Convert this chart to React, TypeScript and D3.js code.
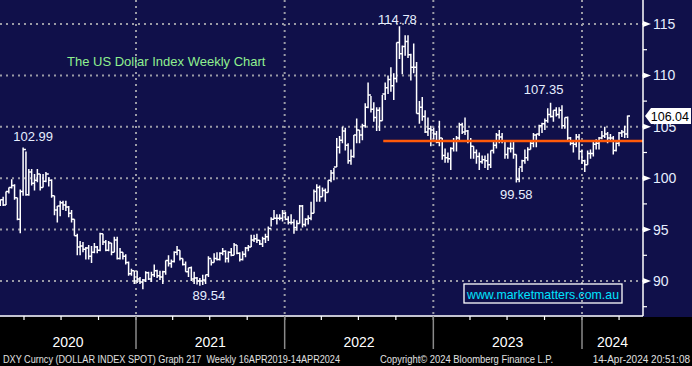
import React from "react";
import * as d3 from "d3";

// weekly DXY bars as [high, low, close]; each list starts at its first Friday
const start2020 = "2020-01-03";
const weeks2020: number[][] = [
  [96.9, 96.0, 96.8], [97.5, 96.6, 97.4], [97.6, 97.0, 97.6], [97.9, 97.3, 97.9], [98.2, 97.3, 97.4],
  [98.7, 97.4, 98.7], [99.1, 98.5, 99.1], [99.9, 99.0, 99.3], [99.4, 97.9, 98.1], [98.1, 95.9, 96.0],
  [98.9, 94.65, 98.7], [102.99, 98.3, 102.8], [102.6, 98.3, 98.4], [100.9, 98.3, 100.6], [100.9, 99.3, 99.5],
  [100.4, 98.8, 99.8], [100.9, 99.6, 100.4], [100.4, 98.8, 99.1], [100.4, 99.1, 99.7], [100.6, 99.6, 100.4],
  [100.1, 99.2, 99.8], [99.9, 98.1, 98.3], [98.3, 96.4, 96.9], [97.3, 95.7, 97.3], [97.8, 96.3, 97.6],
  [97.8, 96.9, 97.4], [97.8, 96.8, 97.2], [97.3, 96.2, 96.6], [96.9, 95.7, 96.0], [96.0, 94.4, 94.4],
  [94.6, 92.5, 93.3], [93.9, 92.5, 93.4], [93.8, 92.8, 93.1], [93.3, 92.1, 93.2], [93.5, 92.1, 92.4],
  [93.4, 91.75, 92.8], [93.7, 92.7, 93.3], [93.4, 92.7, 93.0], [94.7, 92.9, 94.6], [94.6, 93.5, 93.8],
  [94.0, 92.9, 93.0], [93.9, 92.9, 93.7], [93.7, 92.5, 92.8], [94.3, 92.8, 94.0], [94.3, 92.1, 92.2],
  [93.2, 92.1, 92.8], [92.8, 92.1, 92.4], [92.6, 91.6, 91.8], [91.9, 90.5, 90.7], [91.2, 90.5, 91.0],
  [91.0, 89.7, 90.0], [91.0, 89.8, 90.2], [90.4, 89.7, 89.9],
];
const start2021 = "2021-01-08";
const weeks2021: number[][] = [
  [90.2, 89.2, 90.1], [90.95, 89.9, 90.8], [90.9, 90.1, 90.2], [90.9, 89.9, 90.6],
  [91.6, 90.4, 91.0], [91.1, 90.3, 90.5], [91.0, 90.1, 90.4], [91.0, 89.7, 90.9],
  [92.0, 90.6, 92.0], [92.5, 91.4, 91.7], [92.1, 91.3, 91.9], [92.9, 91.8, 92.8],
  [93.4, 92.5, 93.0], [93.0, 92.0, 92.2], [92.2, 91.5, 91.6], [91.9, 90.9, 90.9], [91.3, 90.4, 91.3],
  [91.4, 90.0, 90.2], [90.9, 89.7, 90.3], [90.4, 89.65, 90.0], [90.3, 89.53, 90.0],
  [90.6, 89.6, 90.1], [90.6, 89.7, 90.6], [92.4, 90.4, 92.2], [92.1, 91.5, 91.8],
  [92.7, 91.8, 92.2], [92.8, 92.0, 92.1], [92.8, 92.0, 92.7], [93.2, 92.5, 92.9], [93.0, 91.8, 92.2],
  [92.9, 91.8, 92.8], [93.2, 92.4, 92.5], [93.7, 92.5, 93.5], [93.5, 92.6, 92.7],
  [92.8, 91.9, 92.1], [92.9, 92.0, 92.6], [93.3, 92.3, 93.2], [93.5, 92.9, 93.3],
  [94.5, 93.3, 94.0], [94.5, 93.8, 94.1], [94.6, 93.7, 93.96], [94.0, 93.5, 93.6], [94.3, 93.3, 94.1],
  [94.6, 93.7, 94.3], [95.3, 93.9, 95.1], [96.2, 95.3, 96.0], [96.9, 96.0, 96.1],
  [96.5, 95.5, 96.1], [96.5, 95.9, 96.1], [96.9, 95.8, 96.6], [96.7, 95.9, 96.0], [96.3, 95.5, 95.7],
];
const start2022 = "2022-01-07";
const weeks2022: number[][] = [
  [96.5, 95.5, 95.7], [96.0, 94.6, 95.2], [95.9, 94.9, 95.6], [97.4, 95.6, 97.3],
  [97.4, 95.2, 95.5], [96.1, 95.3, 96.0], [96.4, 95.5, 96.1], [97.7, 95.9, 96.6],
  [98.9, 96.6, 98.7], [99.4, 97.7, 99.1], [99.3, 97.7, 98.2], [99.1, 98.2, 98.8],
  [99.0, 97.7, 98.6], [99.8, 98.6, 99.8], [100.8, 99.6, 100.5], [101.0, 99.8, 101.1], [103.9, 101.1, 103.0],
  [104.1, 102.4, 103.7], [105.0, 103.4, 104.6], [104.9, 102.7, 103.2], [103.4, 101.4, 101.7],
  [102.8, 101.3, 102.1], [104.2, 102.0, 104.2], [105.8, 103.4, 104.7], [104.7, 103.4, 104.2],
  [105.3, 103.7, 105.1], [107.3, 104.9, 106.9], [109.3, 106.8, 108.1], [108.0, 106.4, 106.7], [107.4, 105.5, 105.9],
  [106.9, 104.6, 106.6], [106.9, 104.6, 105.6], [108.1, 105.6, 108.2], [109.3, 107.6, 108.8],
  [110.0, 108.2, 109.6], [110.8, 108.4, 109.0], [110.2, 107.6, 109.7], [113.2, 109.3, 113.2], [114.78, 111.6, 112.1],
  [112.9, 110.1, 112.8], [113.9, 111.9, 113.3], [113.9, 111.7, 112.0], [112.1, 109.5, 110.8],
  [113.1, 110.2, 110.8], [111.3, 106.3, 106.3], [107.5, 105.3, 106.9], [107.9, 105.6, 106.0],
  [106.6, 104.4, 104.5], [105.9, 104.1, 104.8], [105.1, 103.1, 104.7], [104.9, 103.8, 104.3], [104.6, 103.4, 103.5],
];
const start2023 = "2023-01-06";
const weeks2023: number[][] = [
  [105.6, 103.1, 103.9], [103.9, 101.8, 102.2], [102.9, 101.5, 102.0], [102.5, 101.5, 101.9],
  [103.0, 100.8, 102.9], [103.9, 102.6, 103.6], [104.1, 102.6, 103.9], [105.4, 103.7, 105.2],
  [105.4, 104.3, 104.5], [105.9, 104.2, 104.6], [104.7, 103.4, 103.6], [103.9, 101.9, 103.1], [103.1, 101.9, 102.5],
  [102.8, 101.4, 102.1], [102.5, 100.8, 101.6], [102.2, 101.4, 101.8], [102.2, 101.0, 101.7],
  [102.4, 100.8, 101.3], [102.7, 101.0, 102.7], [103.6, 102.4, 103.2], [104.4, 102.9, 104.2],
  [104.7, 103.4, 104.0], [104.4, 103.4, 103.6], [103.7, 101.9, 102.3], [103.0, 101.9, 102.9], [103.5, 102.5, 102.9],
  [103.6, 101.9, 102.3], [102.3, 99.58, 99.9], [101.0, 99.6, 101.1], [101.8, 100.6, 101.7],
  [102.8, 101.4, 102.0], [103.0, 101.7, 102.8], [103.6, 102.8, 103.4], [104.4, 103.0, 104.2],
  [104.3, 103.0, 104.3], [105.2, 104.1, 105.1], [105.4, 104.4, 105.3], [105.8, 104.7, 105.6], [106.8, 105.4, 106.2],
  [107.35, 105.9, 106.0], [106.6, 105.5, 106.6], [106.9, 106.0, 106.2], [106.9, 105.8, 106.6],
  [107.1, 104.8, 105.1], [105.9, 104.8, 105.9], [106.0, 103.7, 103.9], [104.0, 103.2, 103.4],
  [103.6, 102.5, 103.3], [104.3, 103.0, 104.0], [104.3, 101.8, 102.6], [102.8, 101.4, 101.7], [101.8, 100.6, 101.3],
];
const start2024 = "2024-01-05";
const weeks2024: number[][] = [
  [102.7, 101.3, 102.4], [102.8, 101.9, 102.4], [103.7, 102.1, 103.3], [103.8, 102.8, 103.4],
  [104.0, 102.8, 103.9], [104.6, 103.8, 104.1], [105.0, 103.9, 104.3], [104.5, 103.4, 103.9],
  [104.3, 103.7, 103.9], [104.1, 102.3, 102.7], [103.5, 102.6, 103.4], [104.5, 103.1, 104.4], [104.7, 104.0, 104.5],
  [105.1, 103.9, 104.3], [106.1, 103.9, 106.04],
];
const firstOpen = 96.4;
const lastPrice = 106.04;
const supportLevel = 103.63;
const supportFrom = "2022-08-31";

const yTicks = [90, 95, 100, 105, 110, 115];
const yMinor = [87.5, 92.5, 97.5, 102.5, 107.5, 112.5];
const years = ["2020", "2021", "2022", "2023", "2024"];
const callouts = [
  { label: "102.99", date: "2020-03-20", value: 102.99, dx: 14, dy: -6 },
  { label: "89.54", date: "2021-05-28", value: 89.54, dx: 13, dy: 14 },
  { label: "114.78", date: "2022-09-30", value: 114.78, dx: 2, dy: -2 },
  { label: "99.58", date: "2023-07-14", value: 99.58, dx: 4, dy: 16 },
  { label: "107.35", date: "2023-10-06", value: 107.35, dx: -3, dy: -9 },
];

const title = "The US Dollar Index Weekly Chart";
const site = "www.marketmatters.com.au";
const footLeft = "DXY Curncy (DOLLAR INDEX SPOT) Graph 217  Weekly 16APR2019-14APR2024";
const footMid = "Copyright\u00a9 2024 Bloomberg Finance L.P.";
const footRight = "14-Apr-2024 20:51:08";

const W = 692;
const H = 366;
const plotR = 643;
const plotB = 316;
const font = "'Liberation Sans', Arial, sans-serif";

const parse = d3.utcParse("%Y-%m-%d");

export default function App() {
  const x = d3.scaleUtc().domain([parse("2021-01-01")!, parse("2024-01-01")!]).range([136, 582]);
  const y = d3.scaleLinear().domain([90, 115]).range([281, 24]);
  const barShift = 4;

  const groups: [string, number[][]][] = [
    [start2020, weeks2020], [start2021, weeks2021], [start2022, weeks2022],
    [start2023, weeks2023], [start2024, weeks2024],
  ];
  let prev = firstOpen;
  const bars: { d: Date; o: number; h: number; l: number; c: number }[] = [];
  groups.forEach(([s, rows]) => {
    const s0 = parse(s)!;
    rows.forEach((r, i) => {
      bars.push({ d: d3.utcDay.offset(s0, 7 * i), o: prev, h: r[0], l: r[1], c: r[2] });
      prev = r[2];
    });
  });

  const barPath = bars
    .map((b) => {
      const cx = x(b.d) + barShift;
      return `M${cx},${y(b.h)}V${y(b.l)}M${cx - 2.5},${y(b.o)}H${cx}M${cx},${y(b.c)}H${cx + 2.5}`;
    })
    .join("");

  const yearStarts = years.map((yr) => parse(`${yr}-01-01`)!);
  const yearEnds = years.map((yr) => parse(`${+yr + 1}-01-01`)!);
  const quarters = d3.utcMonth.every(3)!.range(parse("2019-10-01")!, parse("2024-07-01")!);

  const lastY = y(lastPrice);

  return (
    <svg width={W} height={H} style={{ position: "absolute", left: 0, top: 0, display: "block" }} fontFamily={font}>
      <defs>
        <clipPath id="plot">
          <rect x={0} y={0} width={plotR} height={plotB} />
        </clipPath>
      </defs>
      <rect x={0} y={0} width={W} height={H} fill="#000" />
      <rect x={0} y={0} width={W} height={plotB + 1} fill="#10104a" />

      {/* grid */}
      {yTicks.map((t) => (
        <line key={t} x1={0} x2={plotR} y1={y(t)} y2={y(t)} stroke="#9a9aa6" strokeWidth={2} strokeDasharray="2,4" />
      ))}
      {yearStarts.slice(1).map((d) => (
        <line key={+d} x1={x(d)} x2={x(d)} y1={0} y2={plotB} stroke="#9a9aa6" strokeWidth={2} strokeDasharray="2,4" />
      ))}

      <text x={67} y={66} fill="#8fef8f" fontSize={13}>{title}</text>

      {/* bars */}
      <g clipPath="url(#plot)">
        <path d={barPath} stroke="#fff" strokeWidth={1.5} fill="none" />
        <line x1={x(parse(supportFrom)!)} x2={plotR} y1={y(supportLevel)} y2={y(supportLevel)} stroke="#ff5a0a" strokeWidth={2.5} />
      </g>

      {callouts.map((c) => (
        <text key={c.label} x={x(parse(c.date)!) + c.dx} y={y(c.value) + c.dy} fill="#e6eeff" fontSize={13} textAnchor="middle">
          {c.label}
        </text>
      ))}

      <rect x={464} y={284} width={158} height={19} fill="none" stroke="#fff" strokeWidth={1.3} />
      <text x={467} y={299} fill="#00e4ff" fontSize={13} textLength={152} lengthAdjust="spacingAndGlyphs">{site}</text>

      {/* right axis */}
      <line x1={plotR} x2={plotR} y1={0} y2={plotB} stroke="#fff" strokeWidth={1.5} />
      {yMinor.map((t) => (
        <line key={t} x1={plotR} x2={plotR + 4} y1={y(t)} y2={y(t)} stroke="#fff" strokeWidth={1.2} />
      ))}
      {yTicks.map((t) => (
        <g key={t}>
          <path d={`M${plotR},${y(t) - 3}L${plotR + 8},${y(t)}L${plotR},${y(t) + 3}Z`} fill="#fff" />
          <text x={653} y={y(t) + 5} fill="#e6eeff" fontSize={14}>{t}</text>
        </g>
      ))}
      <path
        d={`M${plotR + 2},${lastY}L${plotR + 8},${lastY - 8}H${W - 1}V${lastY + 8}H${plotR + 8}Z`}
        fill="#fff"
      />
      <text x={689} y={lastY + 5} fill="#000" fontSize={12.5} textAnchor="end">{lastPrice.toFixed(2)}</text>

      {/* bottom axis */}
      <line x1={0} x2={plotR} y1={plotB} y2={plotB} stroke="#fff" strokeWidth={1.5} />
      {quarters.map((q) => (
        <line key={+q} x1={x(q)} x2={x(q)} y1={plotB} y2={plotB + 4} stroke="#fff" strokeWidth={1.2} />
      ))}
      {yearStarts.slice(1).map((d) => (
        <line key={+d} x1={x(d)} x2={x(d)} y1={plotB} y2={349} stroke="#8a8a8a" strokeWidth={1.5} />
      ))}
      {years.map((yr, i) => {
        const a = Math.max(0, x(yearStarts[i]));
        const b = Math.min(plotR, x(yearEnds[i]));
        return (
          <text key={yr} x={(a + b) / 2} y={347} fill="#fff" fontSize={14} textAnchor="middle">{yr}</text>
        );
      })}

      <text x={3} y={363} fill="#e0e0e0" fontSize={10} textLength={337} lengthAdjust="spacingAndGlyphs" style={{ whiteSpace: "pre" }}>
        {footLeft}
      </text>
      <text x={380} y={363} fill="#e0e0e0" fontSize={10} textLength={173} lengthAdjust="spacingAndGlyphs">{footMid}</text>
      <text x={690} y={363} fill="#e0e0e0" fontSize={10} textAnchor="end">{footRight}</text>
    </svg>
  );
}
